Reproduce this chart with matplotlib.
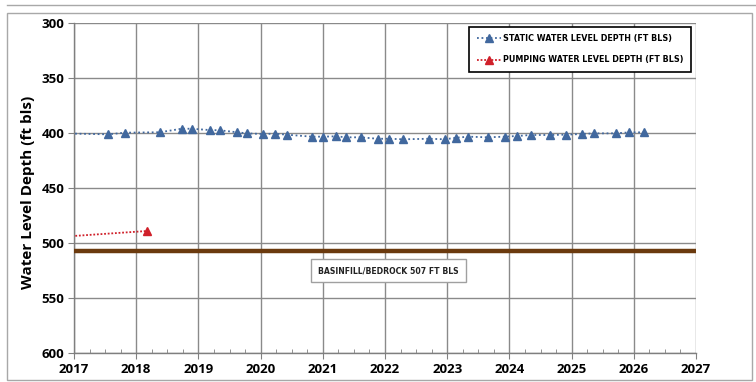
import matplotlib
matplotlib.use("Agg")
import matplotlib.pyplot as plt
from matplotlib.ticker import MultipleLocator
from matplotlib.patches import Rectangle

# Data
static_years = [2016.8, 2017.55, 2017.82, 2018.38, 2018.73, 2018.89, 2019.18, 2019.34, 2019.62,
                2019.78, 2020.04, 2020.23, 2020.42, 2020.82, 2021.00, 2021.21, 2021.38, 2021.61,
                2021.88, 2022.07, 2022.29, 2022.71, 2022.96, 2023.14, 2023.34, 2023.65, 2023.93,
                2024.13, 2024.34, 2024.66, 2024.91, 2025.16, 2025.36, 2025.71, 2025.93, 2026.16]
static_depth = [400.5, 401.4, 399.9, 399.5, 396.3, 396.3, 397.5, 397.7, 399.5,
                400.5, 401.1, 400.8, 401.7, 403.5, 403.5, 403.2, 404.1, 404.1,
                405.4, 405.4, 405.9, 405.4, 405.9, 404.5, 403.5, 404.1, 403.5,
                402.9, 402.0, 402.0, 401.7, 401.1, 400.5, 400.5, 399.6, 399.6]
pump_years = [2016.5, 2018.17]
pump_depth = [495.6, 489.2]
bedrock_depth = 507
bedrock_label = "Basinfill/Bedrock 507 ft bls"
static_label = "Static Water Level Depth (ft bls)"
pump_label = "Pumping Water Level Depth (ft bls)"
year_ticks = list(range(2017, 2028))
depth_ticks = [300, 350, 400, 450, 500, 550, 600]

W, H = 756, 382
fig = plt.figure(figsize=(W / 100, H / 100), dpi=100)
ax = fig.add_axes([74 / W, 1 - 353 / H, (696 - 74) / W, (353 - 22.7) / H])

blue = "#41689E"
red = "#D0202A"
brown = "#6B3A0E"
tick_font = ["Open Sans", "DejaVu Sans"]
small_font = ["Liberation Sans Narrow", "DejaVu Sans"]

ax.plot(static_years, static_depth, linestyle=(0, (1, 1.5)), color=blue, lw=1.3,
        marker="^", ms=6, mec=blue, mfc=blue, label=static_label, zorder=4, clip_on=True)
ax.plot(pump_years, pump_depth, linestyle=(0, (1, 1)), color=red, lw=1.3,
        marker="^", ms=6, mec=red, mfc=red, label=pump_label, zorder=4, clip_on=True)
ax.axhline(bedrock_depth, color=brown, lw=3.2, zorder=3)

ax.set_xlim(2017, 2027)
ax.set_ylim(600, 300)
ax.set_xticks(year_ticks)
ax.set_yticks(depth_ticks)
ax.xaxis.set_minor_locator(MultipleLocator(0.25))
ax.grid(True, which="major", color="#8A8A8A", lw=1.0, zorder=0)
ax.tick_params(axis="both", which="major", length=4, color="#808080", labelsize=9.5, pad=3)
ax.tick_params(axis="x", which="minor", length=3, direction="in", color="#808080")
for lab in ax.get_xticklabels() + ax.get_yticklabels():
    lab.set_fontweight("bold")
    lab.set_family(tick_font)
for s in ["top", "right"]:
    ax.spines[s].set_visible(False)
for s in ["left", "bottom"]:
    ax.spines[s].set_color("#7F7F7F")
    ax.spines[s].set_linewidth(1.0)

ax.set_ylabel("Water Level Depth (ft bls)", fontsize=11, fontweight="bold", family=tick_font)
ax.yaxis.set_label_coords(-0.063, 0.485)

leg = ax.legend(loc="upper right", bbox_to_anchor=((691 - 74) / 622, (330.3 - 4.3) / 330.3),
                frameon=True, fancybox=False, edgecolor="black", framealpha=1,
                prop={"family": small_font, "size": 5.8, "weight": "bold"},
                handlelength=3.0, labelspacing=1.5, borderpad=0.9, handletextpad=0.3,
                borderaxespad=0)
leg.get_frame().set_linewidth(1.2)
for t, lbl in zip(leg.get_texts(), [static_label, pump_label]):
    t.set_text(lbl.upper())

ax.text(2022.06, 525.5, bedrock_label.upper(), ha="center", va="center", fontsize=5.6,
        fontweight="bold", family=small_font, color="#222222",
        bbox=dict(boxstyle="square,pad=0.9", fc="white", ec="#A0A0A0", lw=1.0), zorder=5)

# outer frame
fig.patches.append(Rectangle((7 / W, 2 / H), (752 - 7) / W, (369 - 2) / H, transform=fig.transFigure,
                             fill=False, ec="#A8A8A8", lw=1.0))
fig.add_artist(plt.Line2D([7 / W, 1], [1 - 5 / H, 1 - 5 / H], transform=fig.transFigure,
                          color="#A8A8A8", lw=1.0))

fig.savefig("out.png", dpi=100)
